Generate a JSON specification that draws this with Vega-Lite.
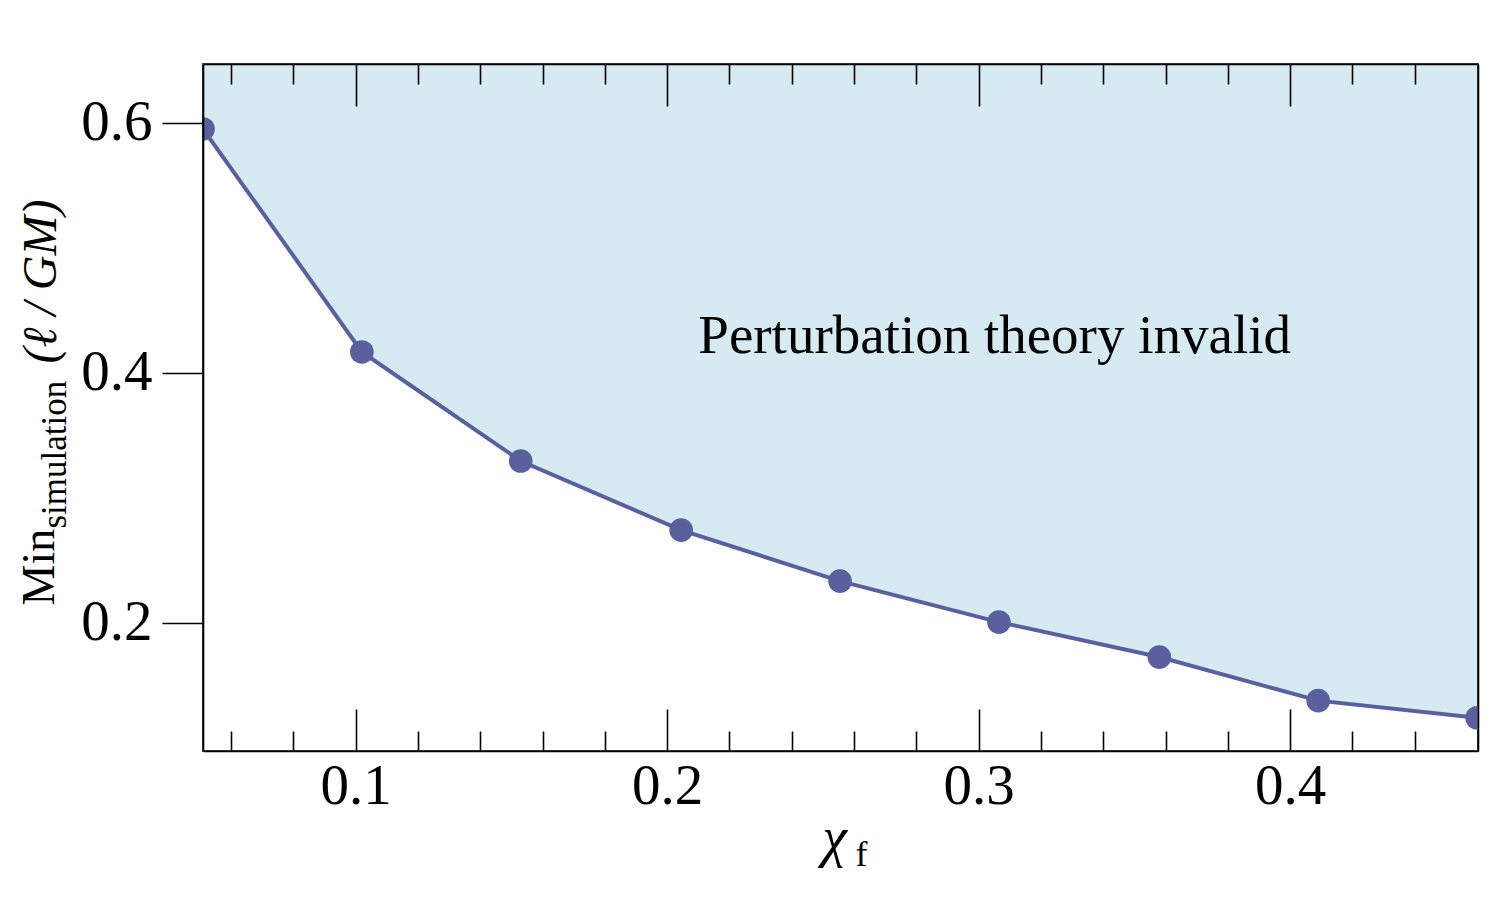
{
  "$schema": "https://vega.github.io/schema/vega-lite/v6.json",
  "width": 1275,
  "height": 687,
  "autosize": {"type": "none"},
  "padding": {"left": 203, "top": 64, "right": 22, "bottom": 149},
  "background": "white",
  "config": {
    "font": "Liberation Serif",
    "view": {"stroke": "black", "strokeWidth": 1.6},
    "axis": {
      "grid": false,
      "domainColor": "black",
      "domainWidth": 1.6,
      "tickColor": "black",
      "tickWidth": 1.6,
      "labelColor": "black",
      "titleColor": "black",
      "labelFont": "Liberation Serif",
      "titleFont": "Liberation Serif",
      "titleFontWeight": "normal",
      "labelFlush": false,
      "labelOverlap": false
    }
  },
  "data": {
    "values": [
      {"chi": 0.051, "min": 0.5952},
      {"chi": 0.102, "min": 0.4167},
      {"chi": 0.153, "min": 0.3294},
      {"chi": 0.2045, "min": 0.2741},
      {"chi": 0.2555, "min": 0.2333},
      {"chi": 0.3065, "min": 0.2005},
      {"chi": 0.358, "min": 0.1725},
      {"chi": 0.409, "min": 0.1376},
      {"chi": 0.46, "min": 0.1239}
    ]
  },
  "layer": [
    {
      "mark": {"type": "area", "color": "#d5eaf1", "opacity": 1, "clip": true},
      "encoding": {
        "x": {
          "field": "chi", "type": "quantitative",
          "scale": {"domain": [0.051, 0.4603], "nice": false, "zero": false},
          "axis": {
            "orient": "bottom", "zindex": 1, "values": [0.1, 0.2, 0.3, 0.4], "format": ".1f",
            "labelFontSize": 57, "labelBaseline": "alphabetic", "labelPadding": 94,
            "tickSize": -42, "domain": true,
            "title": "χ", "titleFontSize": 56, "titleFontStyle": "italic",
            "titleX": 631, "titleY": 104, "titleAlign": "center", "titleBaseline": "alphabetic"
          }
        },
        "y": {
          "field": "min", "type": "quantitative",
          "scale": {"domain": [0.0973, 0.6472], "nice": false, "zero": false},
          "axis": {
            "orient": "left", "zindex": 1, "values": [0.2, 0.4, 0.6], "format": ".1f",
            "labelFontSize": 57, "labelPadding": 10, "labelBaseline": "middle",
            "tickSize": 41, "domain": true,
            "title": "Min", "titleFontSize": 46, "titleAngle": -90,
            "titleX": -150, "titleY": 541, "titleAlign": "left", "titleBaseline": "alphabetic"
          }
        },
        "y2": {"datum": 0.6472}
      }
    },
    {
      "mark": {"type": "line", "color": "#5a609e", "strokeWidth": 4, "clip": true},
      "encoding": {
        "x": {
          "field": "chi", "type": "quantitative",
          "scale": {"domain": [0.051, 0.4603], "nice": false, "zero": false},
          "axis": {
            "orient": "bottom", "zindex": 1,
            "values": [0.06, 0.08, 0.12, 0.14, 0.16, 0.18, 0.22, 0.24, 0.26, 0.28, 0.32, 0.34, 0.36, 0.38, 0.42, 0.44],
            "labels": false, "tickSize": -20, "domain": false,
            "title": "f", "titleFontSize": 36, "titleFontStyle": "normal",
            "titleX": 652, "titleY": 114, "titleAlign": "left", "titleBaseline": "alphabetic"
          }
        },
        "y": {
          "field": "min", "type": "quantitative",
          "scale": {"domain": [0.0973, 0.6472], "nice": false, "zero": false},
          "axis": {
            "orient": "left", "zindex": 1, "labels": false, "ticks": false, "domain": false,
            "title": "simulation", "titleFontSize": 35, "titleAngle": -90,
            "titleX": -138, "titleY": 464, "titleAlign": "left", "titleBaseline": "alphabetic"
          }
        }
      }
    },
    {
      "mark": {"type": "circle", "color": "#5a609e", "size": 560, "opacity": 1, "clip": true},
      "encoding": {
        "x": {
          "field": "chi", "type": "quantitative",
          "scale": {"domain": [0.051, 0.4603], "nice": false, "zero": false},
          "axis": {
            "orient": "top", "zindex": 1, "values": [0.1, 0.2, 0.3, 0.4],
            "labels": false, "tickSize": -42, "domain": true, "title": null
          }
        },
        "y": {
          "field": "min", "type": "quantitative",
          "scale": {"domain": [0.0973, 0.6472], "nice": false, "zero": false},
          "axis": {
            "orient": "left", "zindex": 1, "labels": false, "ticks": false, "domain": false,
            "title": "(ℓ / GM)", "titleFontSize": 48, "titleFontStyle": "italic", "titleAngle": -90,
            "titleX": -148, "titleY": 299, "titleAlign": "left", "titleBaseline": "alphabetic"
          }
        }
      }
    },
    {
      "data": {"values": [{}]},
      "mark": {
        "type": "text", "text": "Perturbation theory invalid", "fontSize": 55,
        "align": "left", "baseline": "alphabetic", "color": "black", "font": "Liberation Serif"
      },
      "encoding": {
        "x": {
          "datum": 0.21, "type": "quantitative",
          "scale": {"domain": [0.051, 0.4603], "nice": false, "zero": false},
          "axis": {
            "orient": "top", "zindex": 1,
            "values": [0.06, 0.08, 0.12, 0.14, 0.16, 0.18, 0.22, 0.24, 0.26, 0.28, 0.32, 0.34, 0.36, 0.38, 0.42, 0.44],
            "labels": false, "tickSize": -20, "domain": false, "title": null
          }
        },
        "y": {
          "datum": 0.416, "type": "quantitative",
          "scale": {"domain": [0.0973, 0.6472], "nice": false, "zero": false},
          "axis": {
            "orient": "right", "zindex": 1, "labels": false, "ticks": false, "domain": true, "title": null
          }
        }
      }
    }
  ],
  "resolve": {"axis": {"x": "independent", "y": "independent"}}
}
